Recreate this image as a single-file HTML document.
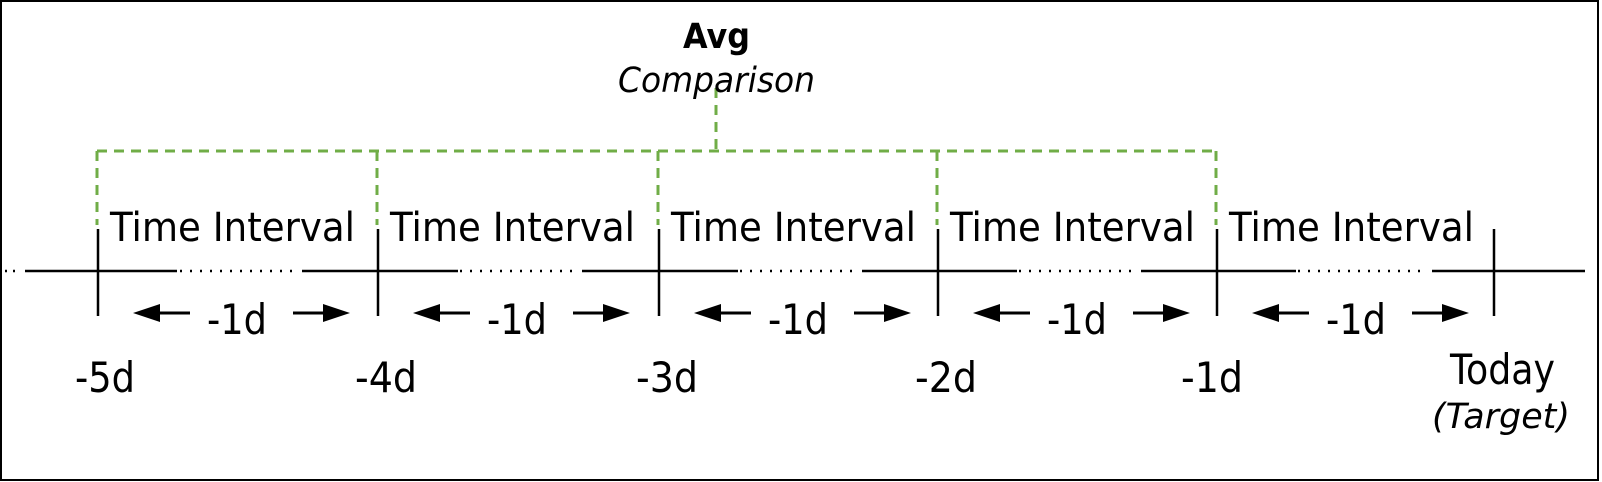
<!DOCTYPE html>
<html><head><style>
html,body{margin:0;padding:0;background:#fff;}
svg{display:block;}
text{font-family:"DejaVu Sans","Liberation Sans",sans-serif;fill:#000;}
</style></head><body>
<svg width="1602" height="482" viewBox="0 0 1602 482" xmlns="http://www.w3.org/2000/svg">
<rect x="1" y="1" width="1597" height="479" fill="#fff" stroke="#000" stroke-width="2"/>
<g stroke="#70ad47" stroke-width="3" fill="none" stroke-dasharray="10,7">
<line x1="97" y1="151" x2="1216" y2="151"/>
<line x1="97" y1="151" x2="97" y2="225"/>
<line x1="377" y1="151" x2="377" y2="225"/>
<line x1="658" y1="151" x2="658" y2="225"/>
<line x1="937" y1="151" x2="937" y2="225"/>
<line x1="1216" y1="151" x2="1216" y2="225"/>
<line x1="716" y1="88" x2="716" y2="151"/>
</g>
<g stroke="#000" stroke-width="2.5">
<line x1="5" y1="271" x2="20" y2="271" stroke-dasharray="2,6"/>
<line x1="25" y1="271" x2="177" y2="271"/>
<line x1="180" y1="271" x2="300" y2="271" stroke-dasharray="2,8"/>
<line x1="302" y1="271" x2="458" y2="271"/>
<line x1="460" y1="271" x2="580" y2="271" stroke-dasharray="2,8"/>
<line x1="582" y1="271" x2="738" y2="271"/>
<line x1="740" y1="271" x2="860" y2="271" stroke-dasharray="2,8"/>
<line x1="862" y1="271" x2="1017" y2="271"/>
<line x1="1019" y1="271" x2="1139" y2="271" stroke-dasharray="2,8"/>
<line x1="1141" y1="271" x2="1296" y2="271"/>
<line x1="1298" y1="271" x2="1428" y2="271" stroke-dasharray="2,8"/>
<line x1="1432" y1="271" x2="1585" y2="271"/>
</g>
<g stroke="#000" stroke-width="2.5">
<line x1="98" y1="229" x2="98" y2="316"/>
<line x1="378" y1="229" x2="378" y2="316"/>
<line x1="659" y1="229" x2="659" y2="316"/>
<line x1="938" y1="229" x2="938" y2="316"/>
<line x1="1217" y1="229" x2="1217" y2="316"/>
<line x1="1494" y1="229" x2="1494" y2="316"/>
</g>
<g font-size="40">
<text x="110" y="241" textLength="245" lengthAdjust="spacingAndGlyphs">Time Interval</text>
<text x="390" y="241" textLength="245" lengthAdjust="spacingAndGlyphs">Time Interval</text>
<text x="671" y="241" textLength="245" lengthAdjust="spacingAndGlyphs">Time Interval</text>
<text x="950" y="241" textLength="245" lengthAdjust="spacingAndGlyphs">Time Interval</text>
<text x="1229" y="241" textLength="245" lengthAdjust="spacingAndGlyphs">Time Interval</text>
</g>
<g id="arr">
<line x1="150" y1="313" x2="190" y2="313" stroke="#000" stroke-width="3"/>
<polygon points="133,313 160,304 160,322" fill="#000"/>
<line x1="293" y1="313" x2="333" y2="313" stroke="#000" stroke-width="3"/>
<polygon points="350,313 323,304 323,322" fill="#000"/>
<text x="207" y="334" font-size="42" textLength="60" lengthAdjust="spacingAndGlyphs">-1d</text>
</g>
<use href="#arr" x="280"/>
<use href="#arr" x="561"/>
<use href="#arr" x="840"/>
<use href="#arr" x="1119"/>
<g font-size="42">
<text x="75" y="392" textLength="60" lengthAdjust="spacingAndGlyphs">-5d</text>
<text x="355" y="392" textLength="62" lengthAdjust="spacingAndGlyphs">-4d</text>
<text x="636" y="392" textLength="62" lengthAdjust="spacingAndGlyphs">-3d</text>
<text x="915" y="392" textLength="62" lengthAdjust="spacingAndGlyphs">-2d</text>
<text x="1181" y="392" textLength="62" lengthAdjust="spacingAndGlyphs">-1d</text>
<text x="1450" y="384" textLength="105" lengthAdjust="spacingAndGlyphs">Today</text>
</g>
<text x="1432" y="428" font-size="35" font-style="italic" textLength="138" lengthAdjust="spacingAndGlyphs">(Target)</text>
<text x="683" y="48" font-size="35" font-weight="bold" textLength="67" lengthAdjust="spacingAndGlyphs">Avg</text>
<text x="618" y="92" font-size="35" font-style="italic" textLength="197" lengthAdjust="spacingAndGlyphs">Comparison</text>
</svg>
</body></html>
